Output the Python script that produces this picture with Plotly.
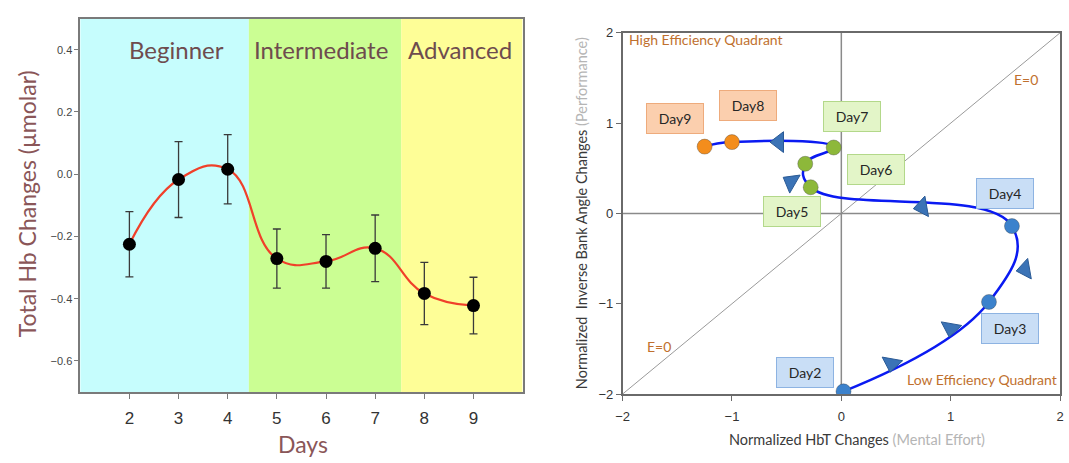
import plotly.graph_objects as go

# ---------- Left panel data ----------
days = [2, 3, 4, 5, 6, 7, 8, 9]
hb_mean = [-0.225, -0.017, 0.016, -0.271, -0.280, -0.238, -0.383, -0.422]
hb_err = [0.105, 0.122, 0.111, 0.095, 0.086, 0.107, 0.100, 0.091]
stage_names = ["Beginner", "Intermediate", "Advanced"]
stage_start = [1.0, 4.43, 7.53]
stage_end = [4.43, 7.53, 10.0]
stage_colors = ["#c6fdfd", "#cbfe93", "#fefe97"]
stage_label_x = [2.95, 5.9, 8.72]

# ---------- Right panel data ----------
day_names = ["Day2", "Day3", "Day4", "Day5", "Day6", "Day7", "Day8", "Day9"]
hbt_x = [0.02, 1.35, 1.56, -0.28, -0.33, -0.07, -1.00, -1.25]
perf_y = [-1.97, -0.98, -0.14, 0.29, 0.55, 0.73, 0.79, 0.74]
point_colors = ["#3c82cc", "#3c82cc", "#3c82cc", "#8db83a", "#8db83a", "#8db83a", "#f38d1c", "#f38d1c"]
label_x = [-0.33, 1.54, 1.50, -0.45, 0.32, 0.10, -0.85, -1.52]
label_y = [-1.76, -1.27, 0.225, 0.02, 0.49, 1.07, 1.20, 1.05]
label_bg = ["#c9def6", "#c9def6", "#c9def6", "#e3f5c8", "#e3f5c8", "#e3f5c8", "#fbcfae", "#fbcfae"]
label_border = ["#8db3e2", "#8db3e2", "#8db3e2", "#b3d88a", "#b3d88a", "#b3d88a", "#eeab7c", "#eeab7c"]
arrow_x = [0.46, 1.00, 1.68, 0.74, -0.46, -0.57]
arrow_y = [-1.66, -1.27, -0.62, 0.07, 0.35, 0.79]
arrow_symbol = ["triangle-down", "triangle-down", "triangle-left", "triangle-left", "triangle-left", "triangle-left"]
arrow_angle = [10, 10, -10, -10, 30, 0]

W, H = 1069, 463

fig = go.Figure()

# Left: mean line with error bars
fig.add_trace(go.Scatter(
    x=days, y=hb_mean, mode="lines",
    line=dict(color="#f0402a", width=2.2, shape="spline", smoothing=1.3),
    xaxis="x", yaxis="y", showlegend=False, hoverinfo="skip"))
fig.add_trace(go.Scatter(
    x=days, y=hb_mean, mode="markers",
    marker=dict(color="#000000", size=13),
    error_y=dict(type="data", array=hb_err, color="#3a3a3a", thickness=1.3, width=4),
    xaxis="x", yaxis="y", showlegend=False))

# Right: trajectory
fig.add_trace(go.Scatter(
    x=hbt_x, y=perf_y, mode="lines",
    line=dict(color="#0a1af2", width=2.5, shape="spline", smoothing=1.3),
    xaxis="x2", yaxis="y2", showlegend=False, hoverinfo="skip"))
fig.add_trace(go.Scatter(
    x=arrow_x, y=arrow_y, mode="markers",
    marker=dict(symbol=arrow_symbol, angle=arrow_angle, size=18, color="#3b73b6",
                line=dict(color="#2a5a95", width=1)),
    xaxis="x2", yaxis="y2", showlegend=False, hoverinfo="skip"))
fig.add_trace(go.Scatter(
    x=hbt_x, y=perf_y, mode="markers",
    marker=dict(color=point_colors, size=15, line=dict(color="rgba(60,60,60,0.35)", width=1)),
    xaxis="x2", yaxis="y2", showlegend=False, text=day_names))

shapes = []
for s0, s1, c in zip(stage_start, stage_end, stage_colors):
    shapes.append(dict(type="rect", xref="x", yref="y domain", x0=s0, x1=s1, y0=0, y1=1,
                       fillcolor=c, line=dict(width=0), layer="below"))
shapes.append(dict(type="line", xref="x2", yref="y2", x0=-2, x1=2, y0=-2, y1=2,
                   line=dict(color="#9a9a9a", width=1), layer="below"))
shapes.append(dict(type="line", xref="x2", yref="y2", x0=0, x1=0, y0=-2, y1=2,
                   line=dict(color="#8a8a8a", width=1.5), layer="below"))
shapes.append(dict(type="line", xref="x2", yref="y2", x0=-2, x1=2, y0=0, y1=0,
                   line=dict(color="#8a8a8a", width=1.5), layer="below"))


def px(xp, yp):
    return xp / W, 1 - yp / H


annotations = []
for name, lx in zip(stage_names, stage_label_x):
    annotations.append(dict(x=lx, y=0.40, xref="x", yref="y", text=name, showarrow=False,
                            xanchor="center", yanchor="middle",
                            font=dict(family="Lato", size=24, color="#6e4c4e")))
ax, ay = px(21, 203)
annotations.append(dict(x=ax, y=ay, xref="paper", yref="paper", text="Total Hb Changes (µmolar)",
                        showarrow=False, textangle=-90, xanchor="center", yanchor="middle",
                        font=dict(family="Lato", size=23, color="#8a5658")))
ax, ay = px(299, 452)
annotations.append(dict(x=ax, y=ay, xref="paper", yref="paper", text="Days",
                        showarrow=False, xanchor="center", yanchor="middle",
                        font=dict(family="Lato", size=23, color="#8a5658")))

for t, lx, ly, bg, bc in zip(day_names, label_x, label_y, label_bg, label_border):
    annotations.append(dict(x=lx, y=ly, xref="x2", yref="y2", text=t, showarrow=False,
                            xanchor="center", yanchor="middle",
                            bgcolor=bg, bordercolor=bc, borderwidth=1, borderpad=6, width=44,
                            font=dict(family="Lato", size=14, color="#262626")))
annotations.append(dict(x=-1.96, y=1.93, xref="x2", yref="y2", text="High Efficiency Quadrant",
                        showarrow=False, xanchor="left", yanchor="middle",
                        font=dict(family="Lato", size=14, color="#c0702e")))
annotations.append(dict(x=1.99, y=-1.84, xref="x2", yref="y2", text="Low Efficiency Quadrant",
                        showarrow=False, xanchor="right", yanchor="middle",
                        font=dict(family="Lato", size=14, color="#c0702e")))
annotations.append(dict(x=1.69, y=1.48, xref="x2", yref="y2", text="E=0", showarrow=False,
                        xanchor="center", yanchor="middle",
                        font=dict(family="Lato", size=14, color="#c0702e")))
annotations.append(dict(x=-1.67, y=-1.47, xref="x2", yref="y2", text="E=0", showarrow=False,
                        xanchor="center", yanchor="middle",
                        font=dict(family="Lato", size=14, color="#c0702e")))
ax, ay = px(859, 447)
annotations.append(dict(x=ax, y=ay, xref="paper", yref="paper",
                        text="Normalized HbT Changes <span style='color:#b5b5b5'>(Mental Effort)</span>",
                        showarrow=False, xanchor="center", yanchor="middle",
                        font=dict(family="Lato", size=14.5, color="#3a3a3a")))
ax, ay = px(580, 213)
annotations.append(dict(x=ax, y=ay, xref="paper", yref="paper",
                        text="Normalized  Inverse Bank Angle Changes <span style='color:#b5b5b5'>(Performance)</span>",
                        showarrow=False, textangle=-90, xanchor="center", yanchor="middle",
                        font=dict(family="Lato", size=14.5, color="#3a3a3a")))

fig.update_layout(
    width=W, height=H, margin=dict(l=0, r=0, t=0, b=0),
    paper_bgcolor="white", plot_bgcolor="white",
    shapes=shapes, annotations=annotations,
    xaxis=dict(domain=[74 / W, 521 / W], range=[1, 10], tickvals=days, showgrid=False, zeroline=False,
               showline=True, linecolor="#7a7a7a", linewidth=1.5, mirror=True,
               ticks="outside", ticklen=5, tickcolor="#7a7a7a", ticklabelstandoff=5,
               tickfont=dict(family="Liberation Sans", size=17, color="#333333")),
    yaxis=dict(domain=[1 - 398 / H, 1 - 12 / H], range=[-0.7, 0.5], tickvals=[-0.6, -0.4, -0.2, 0.0, 0.2, 0.4],
               tickformat=".1f", showgrid=False, zeroline=False,
               showline=True, linecolor="#7a7a7a", linewidth=1.5, mirror=True,
               ticks="outside", ticklen=4, tickcolor="#7a7a7a",
               tickfont=dict(family="Liberation Sans", size=11, color="#444444")),
    xaxis2=dict(domain=[622 / W, 1064 / W], range=[-2, 2], tickvals=[-2, -1, 0, 1, 2], showgrid=False,
                zeroline=False, showline=True, linecolor="#6a6a6a", linewidth=1.5, mirror=True,
                ticks="outside", ticklen=5, tickcolor="#6a6a6a", anchor="y2", ticklabelstandoff=5,
                tickfont=dict(family="Liberation Sans", size=13, color="#333333")),
    yaxis2=dict(domain=[1 - 400 / H, 1 - 26.7 / H], range=[-2, 2], tickvals=[-2, -1, 0, 1, 2], showgrid=False,
                zeroline=False, showline=True, linecolor="#6a6a6a", linewidth=1.5, mirror=True,
                ticks="outside", ticklen=5, tickcolor="#6a6a6a", anchor="x2",
                tickfont=dict(family="Liberation Sans", size=13, color="#333333")),
)

fig.write_html("out.html")
